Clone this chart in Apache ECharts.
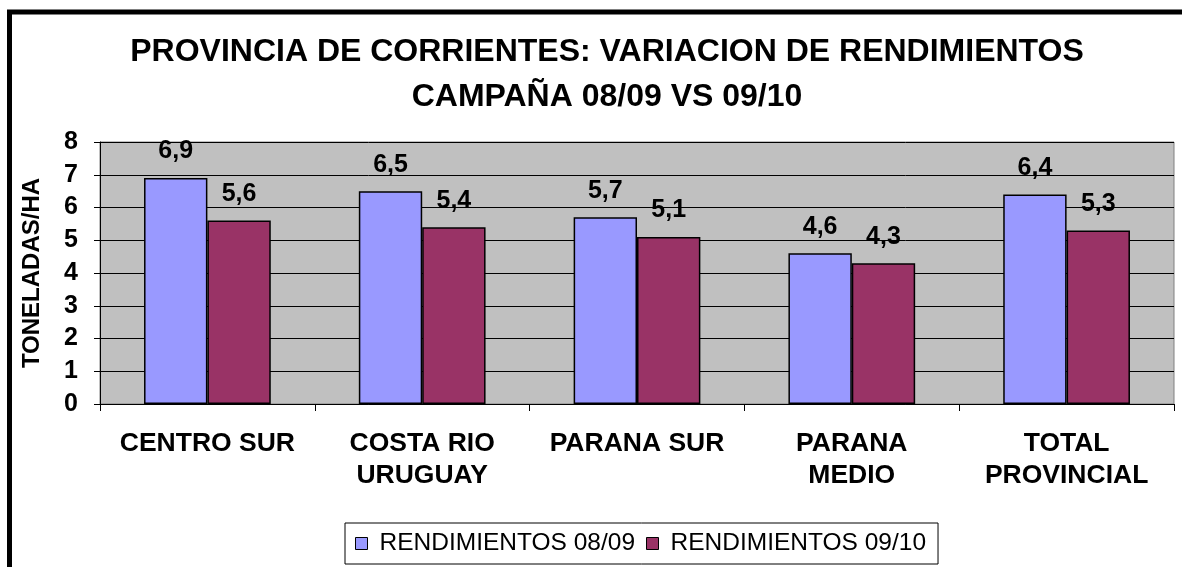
<!DOCTYPE html>
<html>
<head>
<meta charset="utf-8">
<script src="https://cdn.jsdelivr.net/npm/echarts@6/dist/echarts.min.js"></script>
<style>
html,body{margin:0;padding:0;background:#fff;}
#chart{width:1182px;height:567px;}
</style>
</head>
<body>
<div id="chart"></div>
<script>
const categories = ['CENTRO SUR', 'COSTA RIO\nURUGUAY', 'PARANA SUR', 'PARANA\nMEDIO', 'TOTAL\nPROVINCIAL'];
const rend0809 = [6.9, 6.5, 5.7, 4.6, 6.4];
const rend0910 = [5.6, 5.4, 5.1, 4.3, 5.3];
const seriesNames = ['RENDIMIENTOS 08/09', 'RENDIMIENTOS 09/10'];
const yTicks = [0, 1, 2, 3, 4, 5, 6, 7, 8];

const FONT = '"Liberation Sans", Arial, sans-serif';
const chart = echarts.init(document.getElementById('chart'));

const labelCfg = {
  show: true,
  position: 'top',
  distance: 14,
  fontFamily: FONT,
  fontWeight: 'bold',
  fontSize: 25,
  color: '#000',
  formatter: p => String(p.value).replace('.', ',')
};

chart.setOption({
  backgroundColor: '#fff',
  animation: false,
  title: {
    text: 'PROVINCIA DE CORRIENTES: VARIACION DE RENDIMIENTOS\nCAMPAÑA 08/09 VS 09/10',
    left: 607,
    textAlign: 'center',
    top: 30,
    padding: 0,
    textStyle: {
      fontFamily: FONT,
      fontWeight: 'bold',
      fontSize: 32,
      lineHeight: 45,
      color: '#000'
    }
  },
  graphic: [{
    type: 'rect',
    shape: { x: 9.5, y: 12, width: 3000, height: 3000 },
    style: { fill: 'none', stroke: '#000', lineWidth: 5 },
    z: 100
  }],
  legend: {
    data: seriesNames,
    left: 345,
    top: 523,
    icon: 'rect',
    itemWidth: 12,
    itemHeight: 12,
    itemGap: 11,
    padding: [8, 12, 8, 10],
    borderColor: '#000',
    borderWidth: 1,
    backgroundColor: '#fff',
    itemStyle: { borderColor: '#000', borderWidth: 1 },
    textStyle: { fontFamily: FONT, fontSize: 24.5, color: '#000', padding: [0, 0, 0, 7] }
  },
  grid: {
    left: 100,
    right: 8,
    top: 142,
    bottom: 163,
    show: true,
    backgroundColor: '#C0C0C0',
    borderColor: '#808080',
    borderWidth: 1
  },
  xAxis: {
    type: 'category',
    data: categories,
    axisLine: { lineStyle: { color: '#000', width: 1 } },
    axisTick: { show: true, length: 7, interval: 0, lineStyle: { color: '#000' } },
    axisLabel: {
      interval: 0,
      margin: 24,
      fontFamily: FONT,
      fontWeight: 'bold',
      fontSize: 26.5,
      lineHeight: 32,
      color: '#000'
    }
  },
  yAxis: {
    type: 'value',
    min: yTicks[0],
    max: yTicks[yTicks.length - 1],
    interval: 1,
    name: 'TONELADAS/HA',
    nameLocation: 'middle',
    nameGap: 56,
    nameTextStyle: { fontFamily: FONT, fontWeight: 'bold', fontSize: 24, color: '#000' },
    axisLine: { show: true, lineStyle: { color: '#000', width: 1 } },
    axisTick: { show: true, length: 6, lineStyle: { color: '#000' } },
    axisLabel: {
      margin: 22,
      fontFamily: FONT,
      fontWeight: 'bold',
      fontSize: 25,
      color: '#000'
    },
    splitLine: { show: true, lineStyle: { color: '#000', width: 1 } }
  },
  series: [{
    name: seriesNames[0],
    type: 'bar',
    data: rend0809,
    barGap: '0%',
    barCategoryGap: '41%',
    itemStyle: { color: '#9999FF', borderColor: '#000', borderWidth: 1.5 },
    label: labelCfg
  }, {
    name: seriesNames[1],
    type: 'bar',
    data: rend0910,
    itemStyle: { color: '#993366', borderColor: '#000', borderWidth: 1.5 },
    label: labelCfg
  }]
});
</script>
</body>
</html>
